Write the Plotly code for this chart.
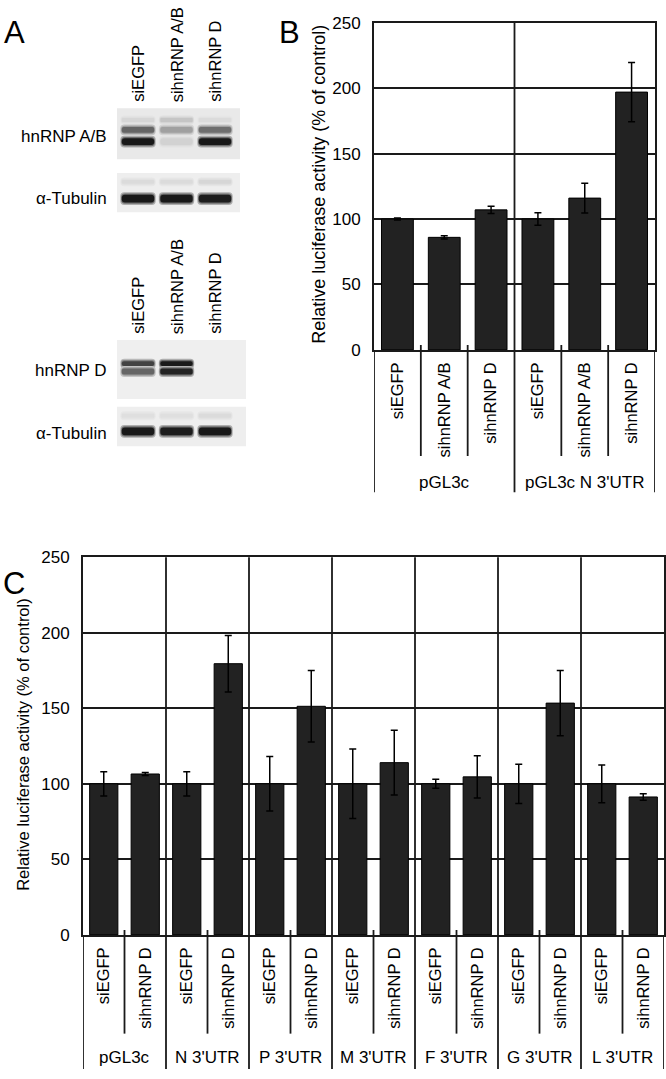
"""Knockdown blots and luciferase reporter bars (panels A, B, C)."""

import plotly.graph_objects as go

W, H = 666, 1079
FONT = "Liberation Sans, Arial, sans-serif"
BAR_FILL = "#222222"
LINE = "#1a1a1a"

# ---- panel A: western blot band intensities (0 = empty, 1 = black) ----
A_LANES = ["siEGFP", "sihnRNP A/B", "sihnRNP D"]
AB_FAINT = [0.10, 0.18, 0.08]
AB_UPPER = [0.62, 0.35, 0.58]
AB_LOWER = [0.97, 0.12, 0.97]
TUB1_FAINT = [0.08, 0.08, 0.10]
TUB1_BAND = [0.97, 0.97, 0.95]
D_UPPER = [0.78, 0.97, 0.0]
D_LOWER = [0.62, 0.92, 0.0]
TUB2_FAINT = [0.06, 0.06, 0.08]
TUB2_BAND = [0.97, 0.95, 0.97]

# ---- panel B ----
B_LANES = ["siEGFP", "sihnRNP A/B", "sihnRNP D", "siEGFP", "sihnRNP A/B", "sihnRNP D"]
B_GROUPS = ["pGL3c", "pGL3c N 3'UTR"]
B_VALUES = [100, 86, 107, 100, 116, 197]
B_ERRORS = [0.8, 1.2, 2.8, 4.8, 11.3, 22.7]

# ---- panel C ----
C_GROUPS = ["pGL3c", "N 3'UTR", "P 3'UTR", "M 3'UTR", "F 3'UTR", "G 3'UTR", "L 3'UTR"]
C_LANES = ["siEGFP", "sihnRNP D"]
C_EGFP = [100, 100, 100, 100, 100, 100, 100]
C_EGFP_ERR = [8, 8, 18, 23, 3, 13, 12.5]
C_HNRNPD = [106.5, 179.5, 151.3, 114, 104.6, 153.4, 91.3]
C_HNRNPD_ERR = [1, 18.7, 23.7, 21.4, 14, 21.6, 2.2]


def px(x):
    return x / W


def py(y):
    return 1 - y / H


def gray(level):
    v = int(round(236 - level * 218))
    return f"rgb({v},{v},{v})"


def label(text, x, y, size, xanchor="center", yanchor="middle", angle=0, xref="paper"):
    return dict(text=text, xref=xref, yref="paper", x=x, y=y, xanchor=xanchor,
                yanchor=yanchor, textangle=angle, showarrow=False,
                font=dict(size=size, family=FONT, color="#000000"))


fig = go.Figure()
shapes = []
annotations = []


def add_bar_panel(n, xs, values, errors, ticktext, dom_x, dom_y):
    xa = "x" if n == 1 else f"x{n}"
    ya = "y" if n == 1 else f"y{n}"
    fig.add_trace(go.Bar(
        x=xs, y=values, xaxis=xa, yaxis=ya, width=0.68,
        marker=dict(color=BAR_FILL, line=dict(color="#000000", width=1)),
        error_y=dict(type="data", array=errors, color="#000000", thickness=1.5, width=3.5),
        showlegend=False, hoverinfo="skip",
    ))
    axis_x = dict(
        domain=[px(dom_x[0]), px(dom_x[1])], anchor=ya, range=[-0.5, len(xs) - 0.5],
        tickvals=xs, ticktext=ticktext, tickangle=-90, ticks="",
        tickfont=dict(size=16.5, color="#000000", family=FONT),
        showgrid=False, zeroline=False, showline=True, mirror=True,
        linecolor=LINE, linewidth=1.8, ticklabelstandoff=4,
    )
    axis_y = dict(
        domain=[py(dom_y[1]), py(dom_y[0])], anchor=xa, range=[0, 250],
        tickvals=[0, 50, 100, 150, 200, 250], ticks="",
        tickfont=dict(size=17, color="#000000", family=FONT),
        showgrid=True, gridcolor=LINE, gridwidth=1.8, zeroline=False,
        showline=True, mirror=True, linecolor=LINE, linewidth=1.8, ticklabelstandoff=8,
    )
    suffix = "" if n == 1 else str(n)
    fig.update_layout(**{f"xaxis{suffix}": axis_x, f"yaxis{suffix}": axis_y})


# ---- panel B ----
xb = list(range(len(B_VALUES)))
add_bar_panel(1, xb, B_VALUES, B_ERRORS, B_LANES, (374, 655), (14, 347))
for k in range(len(xb) + 1):
    x = k - 0.5
    if k % 3 == 0:
        top = 14 if 0 < k < len(xb) else 347
        shapes.append(dict(type="line", xref="x", yref="paper", x0=x, x1=x,
                           y0=py(top), y1=py(492), line=dict(color=LINE, width=1.8)))
    else:
        shapes.append(dict(type="line", xref="x", yref="paper", x0=x, x1=x,
                           y0=py(342), y1=py(455), line=dict(color=LINE, width=1.8)))
for g, name in enumerate(B_GROUPS):
    annotations.append(label(name, g * 3 + 1, py(482), 17, xref="x"))

# ---- panel C ----
xc, vc, ec, tc = [], [], [], []
for g in range(len(C_GROUPS)):
    xc += [2 * g, 2 * g + 1]
    vc += [C_EGFP[g], C_HNRNPD[g]]
    ec += [C_EGFP_ERR[g], C_HNRNPD_ERR[g]]
    tc += C_LANES
add_bar_panel(2, xc, vc, ec, tc, (83, 664), (558, 942.5))
for g in range(len(C_GROUPS) + 1):
    x = 2 * g - 0.5
    top = 558 if 0 < g < len(C_GROUPS) else 942.5
    shapes.append(dict(type="line", xref="x2", yref="paper", x0=x, x1=x,
                       y0=py(top), y1=py(H), line=dict(color=LINE, width=1.8)))
for g in range(len(C_GROUPS)):
    x = 2 * g + 0.5
    shapes.append(dict(type="line", xref="x2", yref="paper", x0=x, x1=x,
                       y0=py(937.5), y1=py(1043), line=dict(color=LINE, width=1.8)))
    annotations.append(label(C_GROUPS[g], x, py(1067), 17, xref="x2"))

# y axis titles
annotations.append(label("Relative luciferase activity (% of control)", px(319), py(179), 18,
                         angle=-90))
annotations.append(label("Relative luciferase activity (% of control)", px(23), py(749), 16.5,
                         angle=-90))

# ---- panel A: blots drawn as thin bars on hidden axes ----
blots = [
    # box (x0, x1, y0, y1), background, rows: (intensities, centre offset, thickness)
    ((117, 240, 101, 153), "#e9e9e9", [(AB_FAINT, 12, 4), (AB_UPPER, 22, 6), (AB_LOWER, 34, 7)]),
    ((117, 240, 167, 207), "#eeeeee", [(TUB1_FAINT, 9, 4), (TUB1_BAND, 26, 8)]),
    ((117, 246, 337, 397), "#efefef", [(D_UPPER, 24, 5), (D_LOWER, 32, 6)]),
    ((117, 246, 405, 445), "#eeeeee", [(TUB2_FAINT, 9, 4), (TUB2_BAND, 25, 8)]),
]
lane_px = 38.5
for i, (box, bg, rows) in enumerate(blots):
    n = i + 3
    bx0, bx1, by0, by1 = box
    x_lo = -(138 - bx0) / lane_px
    x_hi = x_lo + (bx1 - bx0) / lane_px
    shapes.append(dict(type="rect", xref="paper", yref="paper", x0=px(bx0), x1=px(bx1),
                       y0=py(by1), y1=py(by0), fillcolor=bg, line=dict(width=0), layer="below"))
    for levels, centre, thick in rows:
        lanes = [k for k, lv in enumerate(levels) if lv > 0]
        # soft halo around each band
        for grow, fade, wid in [(5, 0.3, 0.92), (2.5, 0.6, 0.88)]:
            fig.add_trace(go.Bar(
                x=lanes, y=[thick + grow] * len(lanes),
                base=[centre - (thick + grow) / 2] * len(lanes),
                width=wid, xaxis=f"x{n}", yaxis=f"y{n}", showlegend=False, hoverinfo="skip",
                marker=dict(color=[gray(levels[k] * fade) for k in lanes], line=dict(width=0),
                            cornerradius=4),
            ))
        fig.add_trace(go.Bar(
            x=lanes, y=[thick] * len(lanes), base=[centre - thick / 2] * len(lanes),
            width=0.84, xaxis=f"x{n}", yaxis=f"y{n}", showlegend=False, hoverinfo="skip",
            marker=dict(color=[gray(levels[k]) for k in lanes], line=dict(width=0),
                        cornerradius=3),
        ))
    fig.update_layout(**{
        f"xaxis{n}": dict(domain=[px(bx0), px(bx1)], range=[x_lo, x_hi], visible=False,
                          anchor=f"y{n}"),
        f"yaxis{n}": dict(domain=[py(by1), py(by0)], range=[by1 - by0, 0], visible=False,
                          anchor=f"x{n}"),
    })

for ybottom in [97, 333]:
    for k, name in enumerate(A_LANES):
        annotations.append(label(name, px(138 + k * lane_px), py(ybottom), 16.5,
                                 yanchor="bottom", angle=-90))

for name, y in [("hnRNP A/B", 130), ("α-Tubulin", 193), ("hnRNP D", 368), ("α-Tubulin", 432)]:
    annotations.append(label(name, px(109), py(y), 17, xanchor="right"))

for letter, x, y in [("A", 14, 24), ("B", 289, 24), ("C", 14, 585)]:
    annotations.append(label(letter, px(x), py(y), 31))

fig.update_layout(
    width=W, height=H, margin=dict(l=0, r=0, t=0, b=0),
    paper_bgcolor="#ffffff", plot_bgcolor="#ffffff",
    barmode="overlay", showlegend=False,
    font=dict(family=FONT, color="#000000"),
    shapes=shapes, annotations=annotations,
)

fig.write_html("out.html", config={"displayModeBar": False},
               post_script="document.body.style.margin='0';")
